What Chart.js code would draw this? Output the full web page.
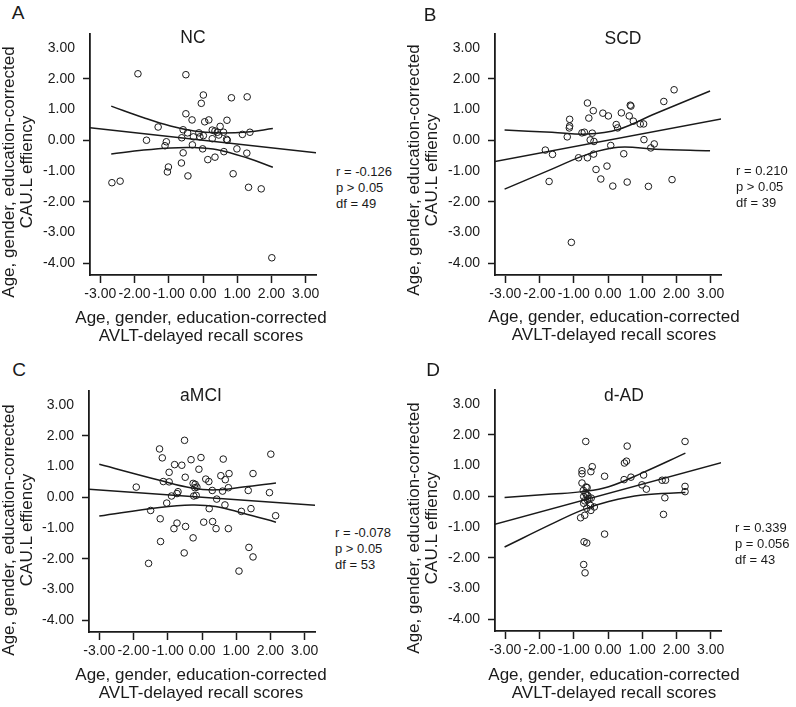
<!DOCTYPE html>
<html>
<head>
<meta charset="utf-8">
<script src="https://cdn.jsdelivr.net/npm/chart.js@4"></script>
<style>
body { margin: 0; background: #fff; }
#figure { position: relative; width: 796px; height: 707px; font-family: "Liberation Sans", Arial, sans-serif; color: #1a1a1a; }
#figure canvas { position: absolute; }
.txt { position: absolute; white-space: nowrap; }
.letter { font-size: 19px; line-height: 20px; transform: translate(-50%, -50%); }
.ptitle { font-size: 17.5px; line-height: 20px; transform: translate(-50%, -50%); }
.xtitle { font-size: 17px; line-height: 18px; text-align: center; transform: translate(-50%, -50%); }
.ytitle { font-size: 17px; line-height: 18px; text-align: center; transform: translate(-50%, -50%) rotate(-90deg); }
.stats { font-size: 13px; line-height: 16px; }
</style>
</head>
<body>
<div id="figure">
  <canvas id="panelA" width="306" height="292" style="left:30px; top:18px;"></canvas>
  <canvas id="panelB" width="306" height="292" style="left:435px; top:18px;"></canvas>
  <canvas id="panelC" width="306" height="292" style="left:29px; top:375px;"></canvas>
  <canvas id="panelD" width="306" height="292" style="left:435px; top:374px;"></canvas>

  <div class="txt letter" style="left:18px; top:13px;">A</div>
  <div class="txt letter" style="left:430px; top:15px;">B</div>
  <div class="txt letter" style="left:19px; top:370px;">C</div>
  <div class="txt letter" style="left:433px; top:370px;">D</div>

  <div class="txt ptitle" style="left:193px; top:37px;">NC</div>
  <div class="txt ptitle" style="left:623px; top:38px;">SCD</div>
  <div class="txt ptitle" style="left:201px; top:395px;">aMCI</div>
  <div class="txt ptitle" style="left:624px; top:395px;">d-AD</div>

  <div class="txt ytitle" style="left:18px; top:172px;">Age, gender, education-corrected<br>CAU.L effiency</div>
  <div class="txt ytitle" style="left:423px; top:170px;">Age, gender, education-corrected<br>CAU.L effiency</div>
  <div class="txt ytitle" style="left:18px; top:530px;">Age, gender, education-corrected<br>CAU.L effiency</div>
  <div class="txt ytitle" style="left:423px; top:528px;">Age, gender, education-corrected<br>CAU.L effiency</div>

  <div class="txt xtitle" style="left:201px; top:327px;">Age, gender, education-corrected<br>AVLT-delayed recall scores</div>
  <div class="txt xtitle" style="left:614px; top:326px;">Age, gender, education-corrected<br>AVLT-delayed recall scores</div>
  <div class="txt xtitle" style="left:201px; top:684px;">Age, gender, education-corrected<br>AVLT-delayed recall scores</div>
  <div class="txt xtitle" style="left:614px; top:684px;">Age, gender, education-corrected<br>AVLT-delayed recall scores</div>

  <div class="txt stats" style="left:336px; top:164px;">r = -0.126<br>p &gt; 0.05<br>df = 49</div>
  <div class="txt stats" style="left:736px; top:163px;">r = 0.210<br>p &gt; 0.05<br>df = 39</div>
  <div class="txt stats" style="left:335px; top:525px;">r = -0.078<br>p &gt; 0.05<br>df = 53</div>
  <div class="txt stats" style="left:735px; top:520px;">r = 0.339<br>p = 0.056<br>df = 43</div>
</div>

<script>
const xTicks = [-3, -2, -1, 0, 1, 2, 3];
const yTicks = [3, 2, 1, 0, -1, -2, -3, -4];

// NC
const ncPoints = [
  [-1.90, 2.16], [-0.50, 2.13], [0.01, 1.47], [-0.05, 1.20], [0.83, 1.38], [1.29, 1.41],
  [-0.50, 0.86], [-0.32, 0.66], [0.05, 0.60], [0.17, 0.66], [0.70, 0.65], [-1.31, 0.43],
  [-0.58, 0.34], [-0.45, 0.24], [0.50, 0.45], [0.27, 0.33], [0.35, 0.30], [0.42, 0.26],
  [0.60, 0.26], [-0.12, 0.24], [0.01, 0.15], [-0.09, 0.11], [-0.28, 0.11], [-0.62, 0.08],
  [0.27, 0.05], [0.46, 0.17], [0.69, 0.03], [0.71, 0.00], [1.15, 0.19], [1.37, 0.26],
  [-1.65, 0.00], [-1.07, -0.05], [-1.11, -0.18], [-0.31, -0.15], [-0.01, -0.28], [0.99, -0.28],
  [-0.58, -0.41], [0.61, -0.37], [1.28, -0.42], [0.35, -0.55], [0.14, -0.63], [-0.63, -0.74],
  [-1.01, -0.87], [-1.04, -1.03], [-0.44, -1.16], [0.88, -1.09], [-2.66, -1.38], [-2.42, -1.33],
  [1.33, -1.53], [1.70, -1.58], [2.01, -3.82]
];
const ncFit = [[-3.3, 0.41], [3.3, -0.41]];
const ncUpper = [[-2.68, 1.11], [-1.73, 0.73], [-0.95, 0.46], [-0.26, 0.30], [0.42, 0.24], [1.30, 0.27], [2.04, 0.38]];
const ncLower = [[-2.68, -0.45], [-1.73, -0.32], [-0.95, -0.25], [-0.26, -0.24], [0.42, -0.31], [1.30, -0.58], [2.04, -0.88]];

// SCD
const scdPoints = [
  [1.93, 1.64], [1.63, 1.26], [-0.60, 1.21], [0.65, 1.14], [0.67, 1.11], [-0.43, 0.96],
  [-0.15, 0.88], [0.01, 0.79], [0.39, 0.89], [0.62, 0.79], [-0.56, 0.72], [-1.12, 0.68],
  [0.74, 0.62], [-1.12, 0.46], [-1.13, 0.40], [0.24, 0.51], [0.28, 0.40], [0.94, 0.53],
  [1.04, 0.53], [-0.76, 0.24], [-0.69, 0.26], [-0.46, 0.23], [-1.19, 0.11], [-0.52, 0.01],
  [-0.41, -0.04], [1.05, 0.02], [1.35, -0.12], [1.25, -0.25], [0.08, -0.17], [-1.83, -0.32],
  [-1.62, -0.46], [-0.42, -0.45], [0.46, -0.44], [-0.86, -0.57], [-0.60, -0.57], [-0.03, -0.84],
  [-0.35, -0.95], [-0.21, -1.26], [-1.72, -1.34], [0.14, -1.49], [0.56, -1.36], [1.18, -1.50],
  [1.87, -1.28], [-1.07, -3.32]
];
const scdFit = [[-3.35, -0.70], [3.34, 0.70]];
const scdUpper = [[-3.02, 0.33], [-1.64, 0.26], [-0.60, 0.20], [0.30, 0.35], [1.39, 0.87], [2.98, 1.60]];
const scdLower = [[-3.02, -1.59], [-1.64, -0.94], [-0.60, -0.46], [0.30, -0.23], [1.39, -0.29], [2.98, -0.34]];

// aMCI
const amciPoints = [
  [-0.51, 1.85], [-1.24, 1.57], [2.01, 1.40], [-1.16, 1.28], [-0.03, 1.29], [0.62, 1.24],
  [-0.32, 1.22], [-0.80, 1.06], [-0.59, 1.04], [-0.09, 0.91], [-0.96, 0.81], [1.49, 0.77],
  [0.79, 0.77], [0.55, 0.70], [-0.49, 0.65], [0.11, 0.59], [0.20, 0.51], [0.68, 0.57],
  [-1.13, 0.51], [-0.96, 0.50], [-0.26, 0.45], [-0.20, 0.42], [-0.21, 0.31], [-0.15, 0.33],
  [0.77, 0.31], [0.30, 0.22], [0.60, 0.20], [1.35, 0.22], [-1.92, 0.33], [-0.70, 0.18],
  [-0.73, 0.12], [-0.89, 0.04], [-0.24, 0.04], [-0.17, 0.06], [1.97, 0.15], [0.43, -0.06],
  [-1.03, -0.19], [0.67, -0.25], [0.21, -0.37], [1.43, -0.37], [1.15, -0.46], [-1.50, -0.43],
  [2.15, -0.60], [-1.22, -0.70], [0.05, -0.81], [0.31, -0.79], [-0.73, -0.84], [-0.48, -0.95],
  [-0.82, -1.02], [0.41, -1.02], [0.77, -1.02], [-0.26, -1.32], [-1.21, -1.44], [1.37, -1.63],
  [-0.52, -1.81], [1.49, -1.94], [-1.56, -2.15], [1.08, -2.40]
];
const amciFit = [[-3.31, 0.26], [3.32, -0.26]];
const amciUpper = [[-3.0, 1.07], [-1.24, 0.55], [-0.30, 0.30], [0.40, 0.24], [1.20, 0.33], [2.16, 0.46]];
const amciLower = [[-3.0, -0.61], [-1.24, -0.33], [-0.30, -0.25], [0.40, -0.30], [1.20, -0.52], [2.16, -0.81]];

// d-AD
const dadPoints = [
  [-0.65, 1.78], [2.25, 1.78], [0.56, 1.63], [0.54, 1.14], [0.48, 1.08], [-0.46, 0.96],
  [-0.76, 0.83], [-0.76, 0.73], [-0.50, 0.80], [-0.10, 0.65], [0.67, 0.62], [0.47, 0.54],
  [1.04, 0.69], [1.58, 0.52], [1.68, 0.52], [-0.76, 0.43], [0.99, 0.37], [1.12, 0.23],
  [2.25, 0.32], [2.25, 0.15], [-0.61, 0.28], [-0.72, 0.19], [-0.66, 0.11], [-0.59, 0.02],
  [-0.71, -0.01], [-0.49, -0.06], [1.66, -0.05], [-0.60, -0.12], [-0.71, -0.23], [-0.51, -0.30],
  [-0.40, -0.35], [-0.62, -0.39], [-0.50, -0.46], [-0.68, -0.62], [-0.80, -0.70], [1.62, -0.59],
  [-0.10, -1.23], [-0.70, -1.48], [-0.62, -1.52], [-0.71, -2.22], [-0.67, -2.49], [-0.63, 0.05],
  [-0.68, -0.15], [-0.55, -0.08], [-0.64, 0.30]
];
const dadFit = [[-3.33, -0.92], [3.31, 1.09]];
const dadUpper = [[-3.02, -0.04], [-1.64, 0.07], [-0.76, 0.15], [0.02, 0.31], [1.0, 0.76], [2.26, 1.40]];
const dadLower = [[-3.02, -1.65], [-1.64, -0.90], [-0.76, -0.45], [0.02, -0.17], [1.0, 0.04], [2.26, 0.12]];

const ink = "#1a1a1a";
Chart.defaults.font.family = '"Liberation Sans", Arial, sans-serif';
Chart.defaults.color = ink;

function toXY(pairs) {
    return pairs.map(p => ({ x: p[0], y: p[1] }));
}

function curve(pairs, tension) {
    return {
        data: toXY(pairs),
        showLine: true,
        borderColor: ink,
        borderWidth: 1.5,
        pointRadius: 0,
        tension: tension
    };
}

function drawPanel(id, points, fit, upper, lower) {
    new Chart(document.getElementById(id), {
        type: "scatter",
        data: {
            datasets: [
                {
                    data: toXY(points),
                    pointStyle: "circle",
                    pointRadius: 3.3,
                    borderColor: ink,
                    borderWidth: 1,
                    backgroundColor: "rgba(0,0,0,0)"
                },
                curve(fit, 0),
                curve(upper, 0.4),
                curve(lower, 0.4)
            ]
        },
        options: {
            responsive: false,
            animation: false,
            layout: { padding: { top: 15, right: 20, left: 0, bottom: 0 } },
            plugins: {
                legend: { display: false },
                tooltip: { enabled: false }
            },
            scales: {
                x: {
                    type: "linear",
                    min: -3.3,
                    max: 3.3,
                    afterFit: s => { s.height = 35; },
                    afterBuildTicks: s => { s.ticks = xTicks.map(v => ({ value: v })); },
                    grid: { drawOnChartArea: false, tickLength: 8, tickColor: ink, tickWidth: 1.5 },
                    border: { color: ink, width: 1.8 },
                    ticks: {
                        color: ink, padding: 3, autoSkip: false, maxRotation: 0,
                        font: { size: 14 },
                        callback: v => v.toFixed(2)
                    }
                },
                y: {
                    type: "linear",
                    min: -4.38,
                    max: 3.44,
                    afterFit: s => { s.width = 60; },
                    afterBuildTicks: s => { s.ticks = yTicks.map(v => ({ value: v })); },
                    grid: {
                        drawOnChartArea: false,
                        tickLength: 7,
                        tickWidth: 1.5,
                        tickColor: c => (c.tick && c.tick.value % 2 === 0) ? ink : "rgba(0,0,0,0)"
                    },
                    border: { color: ink, width: 1.8 },
                    ticks: {
                        color: ink, padding: 8,
                        font: { size: 14 },
                        callback: v => v.toFixed(2)
                    }
                }
            }
        }
    });
}

drawPanel("panelA", ncPoints, ncFit, ncUpper, ncLower);
drawPanel("panelB", scdPoints, scdFit, scdUpper, scdLower);
drawPanel("panelC", amciPoints, amciFit, amciUpper, amciLower);
drawPanel("panelD", dadPoints, dadFit, dadUpper, dadLower);
</script>
</body>
</html>
